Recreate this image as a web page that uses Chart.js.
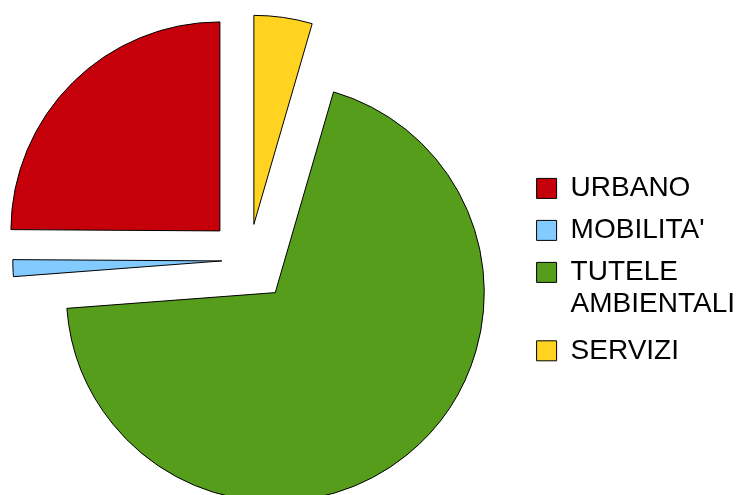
<!DOCTYPE html>
<html>
<head>
<meta charset="utf-8">
<script src="https://cdn.jsdelivr.net/npm/chart.js@4/dist/chart.umd.min.js"></script>
<style>
  body { margin: 0; background: #fff; overflow: hidden; }
  /* canvas is a bit wider than the window and pulled left so the pie sits where it should */
  #pie-chart { display: block; margin-left: -25px; }
</style>
</head>
<body>
<canvas id="pie-chart" width="771" height="495"></canvas>
<script>
"use strict";
// legend order (as in the picture)
const categories = ["URBANO", "MOBILITA'", ["TUTELE", "AMBIENTALI"], "SERVIZI"];
const values = [24.9, 1.3, 69.3, 4.5];
const colors = ["#c5000b", "#83caff", "#579d1c", "#ffd320"];
// how far each slice is pulled out of the pie (px)
const explode = [41, 27, 42, 36];

// pie goes counterclockwise in the original, chart.js goes clockwise -> reverse
const labelsCw = categories.slice().reverse();
const valuesCw = values.slice().reverse();
const colorsCw = colors.slice().reverse();
const explodeCw = explode.slice().reverse();

const explodePlugin = {
  id: "explode",
  beforeDatasetsDraw(chart) {
    const area = chart.chartArea;
    const cx = (area.left + area.right) / 2;
    const cy = (area.top + area.bottom) / 2;
    chart.getDatasetMeta(0).data.forEach((arc, i) => {
      const mid = (arc.startAngle + arc.endAngle) / 2;
      arc.x = cx + explodeCw[i] * Math.cos(mid);
      arc.y = cy + explodeCw[i] * Math.sin(mid);
    });
  },
};

const pieChart = new Chart(document.querySelector("#pie-chart"), {
  type: "pie",
  data: {
    labels: labelsCw,
    datasets: [
      {
        data: valuesCw,
        backgroundColor: colorsCw,
        borderColor: "#000",
        borderWidth: 1,
        borderJoinStyle: "miter",
        offset: 0,
        hoverOffset: 0,
        radius: 209,
        clip: false,
      },
    ],
  },
  plugins: [explodePlugin],
  options: {
    responsive: false,
    animation: false,
    events: [],
    layout: {
      padding: { left: 0, right: 1, top: 25, bottom: 0 },
    },
    plugins: {
      tooltip: { enabled: false },
      legend: {
        position: "right",
        title: { display: true, text: "", padding: 0, font: { size: 16 } },
        labels: {
          color: "#000",
          boxWidth: 20,
          boxHeight: 20,
          padding: 14,
          font: {
            family: "'Liberation Sans', Arial, sans-serif",
            size: 28,
            lineHeight: 1.15,
          },
          sort: (a, b) => b.index - a.index,
        },
      },
    },
  },
});
</script>
</body>
</html>
